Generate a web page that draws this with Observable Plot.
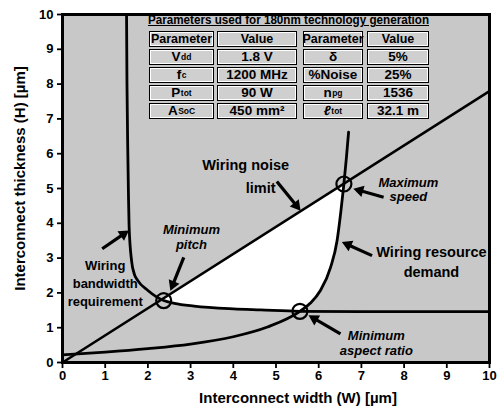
<!DOCTYPE html>
<html><head><meta charset="utf-8">
<script src="https://cdn.jsdelivr.net/npm/d3@7"></script>
<script src="https://cdn.jsdelivr.net/npm/@observablehq/plot@0.6"></script>
<style>
body{margin:0;background:#fff;}
#wrap{position:relative;width:498px;height:419px;font-family:"Liberation Sans",Arial,sans-serif;}
.cell{position:absolute;box-sizing:border-box;border:1.6px solid #000;background:#cfcfcf;box-shadow:inset 0 0 0 1px #fff;display:flex;align-items:center;justify-content:center;font-weight:bold;font-size:13.5px;color:#000;line-height:1;white-space:nowrap;}
.cell.hdr{font-size:12.5px;}
.ttl{position:absolute;font-weight:bold;font-size:12px;text-decoration:underline;white-space:nowrap;color:#000;line-height:1;}
.cell sub{font-size:8.5px;vertical-align:-3px;margin-left:0.5px;}
</style></head><body><div id="wrap"></div>
<script>
// ---------------- data ----------------
const xTicks = [0,1,2,3,4,5,6,7,8,9,10];
const yTicks = [0,1,2,3,4,5,6,7,8,9,10];
const xTitle = "Interconnect width (W) [µm]";
const yTitle = "Interconnect thickness (H) [µm]";

// Wiring noise limit (straight line)
const noiseW = [0, 10];
const noiseH = [0, 7.8];

// Wiring bandwidth requirement curve
const bwW = [1.50, 1.51, 1.53, 1.545, 1.56, 1.62, 1.68, 1.76, 2.00, 2.37, 2.62, 3.08, 4.00, 4.64, 5.56, 7.00, 10.0];
const bwH = [10.0, 8.0, 6.0, 4.8, 3.9, 2.9, 2.55, 2.36, 2.07, 1.78, 1.70, 1.62, 1.54, 1.51, 1.47, 1.46, 1.46];

// Wiring resource demand curve
const resW = [0.0, 1.0, 2.0, 3.0, 4.0, 4.8, 5.56, 5.80, 6.04, 6.28, 6.43, 6.52, 6.59, 6.65, 6.70];
const resH = [0.22, 0.30, 0.40, 0.53, 0.74, 1.02, 1.47, 1.70, 2.07, 2.74, 3.50, 4.35, 5.13, 5.90, 6.62];

// Key points (circles)
const keyNames = ["Minimum pitch", "Minimum aspect ratio", "Maximum speed"];
const keyW = [2.37, 5.56, 6.59];
const keyH = [1.78, 1.47, 5.13];

// Annotations
const labelText = ["Wiring noise", "limit", "Wiring resource\ndemand", "Wiring\nbandwidth\nrequirement"];
const labelW = [4.29, 4.64, 8.64, 1.00];
const labelH = [5.72, 5.06, 2.93, 2.30];
const labelSize = [14.5, 14.5, 14.5, 13];

const italicText = ["Maximum\nspeed", "Minimum\naspect ratio", "Minimum\npitch"];
const italicW = [8.10, 7.35, 3.02];
const italicH = [4.97, 0.57, 3.61];

// Arrows: tail -> head
const arrTailW = [5.02, 7.52, 7.25, 6.51, 2.84, 0.93];
const arrTailH = [5.20, 4.75, 3.07, 0.82, 3.02, 3.27];
const arrHeadW = [5.57, 6.82, 6.55, 5.77, 2.53, 1.55];
const arrHeadH = [4.37, 4.99, 3.46, 1.35, 2.07, 3.79];

// Parameter table
const tableTitle = "Parameters used for 180nm technology generation";
const tableHeader = ["Parameter", "Value", "Parameter", "Value"];
const params1 = [["V","dd"], ["f","c"], ["P","tot"], ["A","SoC"]];
const values1 = ["1.8 V", "1200 MHz", "90 W", "450 mm²"];
const params2 = [["δ",""], ["%Noise",""], ["n","pg"], ["ℓ","tot"]];
const values2 = ["5%", "25%", "1536", "32.1 m"];

// ---------------- layout ----------------
const W = 498, H = 419, ML = 62, MR = 9, MT = 14, MB = 57;
const kx = (W - ML - MR) / (xTicks[xTicks.length-1] - xTicks[0]);
const ky = (H - MT - MB) / (yTicks[yTicks.length-1] - yTicks[0]);

const noiseAt = w => noiseH[0] + (noiseH[1]-noiseH[0]) * (w - noiseW[0]) / (noiseW[1] - noiseW[0]);
const noise = noiseW.map((w,i) => ({W:w, H:noiseH[i]}));
const bw = bwW.map((w,i) => ({W:w, H:bwH[i]}));
const res = resW.map((w,i) => ({W:w, H:resH[i]}));
const keys = keyNames.map((n,i) => ({name:n, W:keyW[i], H:keyH[i]}));

const region = [];
bw.forEach(d => { if (d.W >= keyW[0] && d.W <= keyW[1]) region.push({W:d.W, lo:d.H, hi:noiseAt(d.W)}); });
res.forEach(d => { if (d.W > keyW[1] && d.W <= keyW[2]) region.push({W:d.W, lo:d.H, hi:Math.max(d.H, noiseAt(d.W))}); });

const tipBack = 6.3;
const arrows = arrTailW.map((tw,i) => {
  const dxp = (arrHeadW[i]-tw)*kx, dyp = -(arrHeadH[i]-arrTailH[i])*ky;
  const len = Math.hypot(dxp, dyp), ux = dxp/len, uy = dyp/len;
  return {
    x1: tw, y1: arrTailH[i],
    cx: arrHeadW[i] - tipBack*ux/kx, cy: arrHeadH[i] + tipBack*uy/ky,
    rot: Math.atan2(ux, -uy) * 180 / Math.PI
  };
});

const labels = labelText.map((t,i) => ({t, W:labelW[i], H:labelH[i], s:labelSize[i]}));
const ilabels = italicText.map((t,i) => ({t, W:italicW[i], H:italicH[i]}));

const font = '"Liberation Sans", Arial, Helvetica, sans-serif';

const chart = Plot.plot({
  width: W, height: H,
  marginLeft: ML, marginRight: MR, marginTop: MT, marginBottom: MB,
  x: {domain: [xTicks[0], xTicks[xTicks.length-1]]},
  y: {domain: [yTicks[0], yTicks[yTicks.length-1]]},
  style: {fontFamily: font, fontWeight: "bold", fontSize: "13px", color: "black", background: "white"},
  marks: [
    Plot.frame({fill: "#c8c8c8", stroke: "none"}),
    Plot.areaY(region, {x: "W", y1: "lo", y2: "hi", fill: "white", curve: "monotone-x"}),
    Plot.line(noise, {x: "W", y: "H", stroke: "black", strokeWidth: 2.6}),
    Plot.line(bw, {x: "W", y: "H", stroke: "black", strokeWidth: 2.8, curve: "monotone-x"}),
    Plot.line(res, {x: "W", y: "H", stroke: "black", strokeWidth: 2.8, curve: "monotone-x"}),
    Plot.dot(keys, {x: "W", y: "H", r: 7.5, stroke: "black", strokeWidth: 2.2, fill: "none"}),
    Plot.link(arrows, {x1: "x1", y1: "y1", x2: "cx", y2: "cy", stroke: "black", strokeWidth: 3.2}),
    Plot.dot(arrows, {x: "cx", y: "cy", symbol: "triangle", r: 4.3, fill: "black", stroke: "none", rotate: "rot"}),
    Plot.text(labels, {x: "W", y: "H", text: "t", fontSize: "s", lineHeight: 1.38, fill: "black", fontWeight: "bold"}),
    Plot.text(ilabels, {x: "W", y: "H", text: "t", fontSize: 13, lineHeight: 1.12, fill: "black", fontWeight: "bold", fontStyle: "italic"}),
    Plot.axisX({ticks: xTicks, tickSize: 6, tickPadding: 2, strokeWidth: 1.8, label: null, fontSize: 13, tickFormat: d => d}),
    Plot.axisY({ticks: yTicks, tickSize: 5, tickPadding: 4, strokeWidth: 1.8, label: null, fontSize: 13, tickFormat: d => d}),
    Plot.text([xTitle], {text: d => d, frameAnchor: "bottom", lineAnchor: "middle", dy: 36, dx: 22, fontSize: 15, fontWeight: "bold", fill: "black"}),
    Plot.text([yTitle], {text: d => d, frameAnchor: "left", textAnchor: "middle", lineAnchor: "middle", rotate: -90, dx: -42, dy: -10, fontSize: 15, fontWeight: "bold", fill: "black"}),
    Plot.frame({stroke: "black", strokeWidth: 3})
  ]
});

const wrap = document.getElementById("wrap");
wrap.appendChild(chart);

// table overlay
const colLeft = [149, 217, 303, 367];
const colWidth = [65, 80, 60, 62];
const rowTop0 = 31, rowPitch = 18, rowHeight = 16;
const ttl = document.createElement("div");
ttl.className = "ttl";
ttl.textContent = tableTitle;
ttl.style.left = "148px"; ttl.style.top = "14px";
wrap.appendChild(ttl);
function cell(r, c, html, hdr) {
  const d = document.createElement("div");
  d.className = "cell" + (hdr ? " hdr" : "");
  d.style.left = colLeft[c] + "px";
  d.style.top = (rowTop0 + r*rowPitch) + "px";
  d.style.width = colWidth[c] + "px";
  d.style.height = rowHeight + "px";
  d.innerHTML = html;
  wrap.appendChild(d);
}
tableHeader.forEach((h,c) => cell(0, c, h, true));
const pname = p => (p[0] === "ℓ" ? "<i>ℓ</i>" : p[0]) + (p[1] ? "<sub>" + p[1] + "</sub>" : "");
params1.forEach((p,i) => cell(i+1, 0, pname(p)));
values1.forEach((v,i) => cell(i+1, 1, v));
params2.forEach((p,i) => cell(i+1, 2, pname(p)));
values2.forEach((v,i) => cell(i+1, 3, v));
// fit title width to the table span
const target = colLeft[3] + colWidth[3] - 148;
const wNow = ttl.getBoundingClientRect().width;
if (wNow > 0) { ttl.style.transformOrigin = "0 0"; ttl.style.transform = "scaleX(" + (target / wNow) + ")"; }
</script>
</body></html>
